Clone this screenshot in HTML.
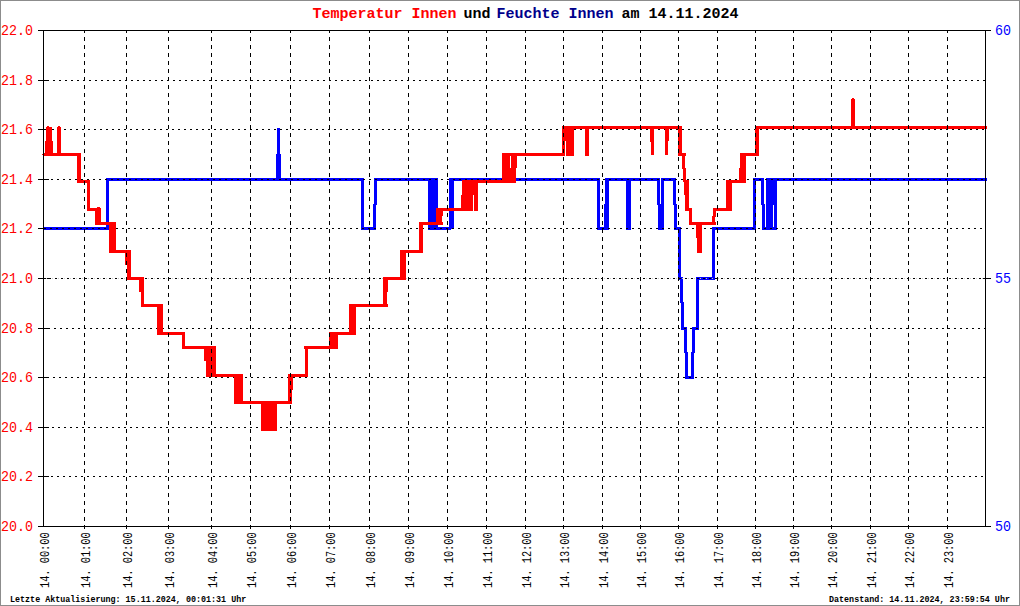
<!DOCTYPE html>
<html><head><meta charset="utf-8"><title>Temperatur Innen und Feuchte Innen am 14.11.2024</title>
<style>
html,body{margin:0;padding:0;background:#fff;}
body{width:1020px;height:606px;overflow:hidden;}
svg{display:block;}
text{font-family:"Liberation Mono",monospace;}
.t{font-weight:bold;font-size:15px;}
.yl{font-size:13.34px;}
.xl{font-size:10.3px;}
.ft{font-size:8.4px;font-weight:bold;}
</style></head><body>
<svg width="1020" height="606" viewBox="0 0 1020 606">
<rect x="0" y="0" width="1020" height="606" fill="#fff"/>

<g fill="#000" shape-rendering="crispEdges">
<rect x="38" y="30" width="11" height="1"/>
<rect x="38" y="80" width="11" height="1"/>
<rect x="38" y="129" width="11" height="1"/>
<rect x="38" y="179" width="11" height="1"/>
<rect x="38" y="228" width="11" height="1"/>
<rect x="38" y="278" width="11" height="1"/>
<rect x="38" y="328" width="11" height="1"/>
<rect x="38" y="377" width="11" height="1"/>
<rect x="38" y="427" width="11" height="1"/>
<rect x="38" y="476" width="11" height="1"/>
<rect x="38" y="526" width="11" height="1"/>
<rect x="982" y="278" width="9" height="1"/>
</g>
<path d="M44 227h65v3h-65zM106 178h3v52h-3zM106 178h258v3h-258zM277 128h3v53h-3zM276 154h5v27h-5zM361 178h3v52h-3zM361 227h15v3h-15zM373 204h3v26h-3zM374 178h3v27h-3zM374 178h64v3h-64zM428 178h10v52h-10zM428 227h23v3h-23zM449 178h5v51h-5zM449 178h151v3h-151zM597 178h3v52h-3zM597 227h12v3h-12zM604 204h5v26h-5zM605 178h4v52h-4zM606 178h25v3h-25zM626 178h5v52h-5zM626 178h34v3h-34zM657 178h3v27h-3zM658 204h6v26h-6zM661 178h3v52h-3zM661 178h15v3h-15zM673 178h3v27h-3zM674 204h3v26h-3zM674 227h7v3h-7zM678 228h3v52h-3zM678 277h5v3h-5zM680 278h3v25h-3zM681 302h3v27h-3zM681 327h6v3h-6zM684 328h3v25h-3zM685 352h3v27h-3zM685 376h9v3h-9zM691 352h3v27h-3zM692 328h3v25h-3zM692 327h7v3h-7zM696 278h3v52h-3zM696 277h19v3h-19zM712 228h3v52h-3zM712 227h44v3h-44zM753 178h3v52h-3zM753 178h11v3h-11zM761 178h3v27h-3zM762 204h3v26h-3zM762 227h15v3h-15zM766 178h7v52h-7zM773 178h1v27h-1zM774 178h3v52h-3zM766 178h221v3h-221z" fill="#0000ff" shape-rendering="crispEdges"/>
<g stroke="#000" stroke-width="1" shape-rendering="crispEdges" fill="none">
<line x1="43" y1="80.5" x2="986" y2="80.5" stroke-dasharray="2 4" stroke-dashoffset="2"/>
<line x1="43" y1="129.5" x2="986" y2="129.5" stroke-dasharray="2 4" stroke-dashoffset="3"/>
<line x1="43" y1="179.5" x2="986" y2="179.5" stroke-dasharray="2 4" stroke-dashoffset="4"/>
<line x1="43" y1="228.5" x2="986" y2="228.5" stroke-dasharray="2 4" stroke-dashoffset="5"/>
<line x1="43" y1="278.5" x2="986" y2="278.5" stroke-dasharray="2 4" stroke-dashoffset="0"/>
<line x1="43" y1="328.5" x2="986" y2="328.5" stroke-dasharray="2 4" stroke-dashoffset="1"/>
<line x1="43" y1="377.5" x2="986" y2="377.5" stroke-dasharray="2 4" stroke-dashoffset="2"/>
<line x1="43" y1="427.5" x2="986" y2="427.5" stroke-dasharray="2 4" stroke-dashoffset="3"/>
<line x1="43" y1="476.5" x2="986" y2="476.5" stroke-dasharray="2 4" stroke-dashoffset="4"/>
<line x1="43" y1="278.5" x2="986" y2="278.5" stroke="#c8c8c8" stroke-dasharray="1 5" stroke-dashoffset="3"/>
</g>
<path d="M42 154h1v1h-1zM44 153h36v3h-36zM45 141h8v15h-8zM46 127h6v15h-6zM47 126h2v1h-2zM57 127h4v29h-4zM58 126h2v1h-2zM77 153h4v30h-4zM77 180h13v3h-13zM87 180h3v31h-3zM87 208h14v3h-14zM95 208h6v17h-6zM97 207h3v1h-3zM95 222h21v3h-21zM109 222h7v31h-7zM109 250h22v3h-22zM125 250h3v15h-3zM127 250h4v30h-4zM127 277h17v3h-17zM139 277h3v15h-3zM141 277h3v30h-3zM141 304h22v3h-22zM157 304h6v31h-6zM157 332h28v3h-28zM182 332h3v17h-3zM182 346h34v3h-34zM204 346h3v15h-3zM206 346h10v31h-10zM206 374h37v3h-37zM234 374h9v30h-9zM234 401h58v3h-58zM261 401h16v30h-16zM288 374h4v30h-4zM288 374h5v16h-5zM288 374h20v3h-20zM305 346h3v31h-3zM304 346h34v3h-34zM329 332h9v17h-9zM329 332h27v3h-27zM349 304h7v31h-7zM349 304h39v3h-39zM383 277h4v30h-4zM383 277h5v15h-5zM383 277h23v3h-23zM400 250h6v30h-6zM400 250h23v3h-23zM419 222h4v31h-4zM419 222h24v3h-24zM436 208h6v17h-6zM441 208h2v8h-2zM436 208h26v3h-26zM461 195h2v16h-2zM462 180h11v31h-11zM473 180h1v15h-1zM474 180h4v31h-4zM462 180h54v3h-54zM502 153h8v30h-8zM510 168h1v15h-1zM511 153h5v30h-5zM516 153h1v15h-1zM502 153h63v3h-63zM562 126h3v30h-3zM565 126h1v15h-1zM566 126h8v30h-8zM562 126h120v3h-120zM585 126h4v30h-4zM650 126h4v16h-4zM651 126h3v29h-3zM665 126h4v15h-4zM665 126h3v29h-3zM678 126h4v30h-4zM678 153h8v3h-8zM682 153h3v16h-3zM683 168h3v14h-3zM684 180h5v15h-5zM685 194h4v17h-4zM685 208h7v3h-7zM689 208h3v17h-3zM689 222h27v3h-27zM696 222h6v16h-6zM697 222h5v31h-5zM712 216h3v9h-3zM713 208h3v9h-3zM713 208h19v3h-19zM726 180h6v31h-6zM726 180h20v3h-20zM740 154h6v29h-6zM739 168h2v15h-2zM740 153h19v3h-19zM755 126h4v30h-4zM755 126h232v3h-232zM851 99h4v30h-4zM852 98h2v1h-2z" fill="#ff0000" shape-rendering="crispEdges"/>
<g stroke="#000" stroke-width="1" shape-rendering="crispEdges" fill="none">
<line x1="84.5" y1="30" x2="84.5" y2="529" stroke-dasharray="4 4" stroke-dashoffset="1"/>
<line x1="126.5" y1="30" x2="126.5" y2="529" stroke-dasharray="4 4" stroke-dashoffset="1"/>
<line x1="168.5" y1="30" x2="168.5" y2="529" stroke-dasharray="4 4" stroke-dashoffset="1"/>
<line x1="211.5" y1="30" x2="211.5" y2="529" stroke-dasharray="4 4" stroke-dashoffset="1"/>
<line x1="250.5" y1="30" x2="250.5" y2="529" stroke-dasharray="4 4" stroke-dashoffset="1"/>
<line x1="290.5" y1="30" x2="290.5" y2="529" stroke-dasharray="4 4" stroke-dashoffset="1"/>
<line x1="329.5" y1="30" x2="329.5" y2="529" stroke-dasharray="4 4" stroke-dashoffset="1"/>
<line x1="369.5" y1="30" x2="369.5" y2="529" stroke-dasharray="4 4" stroke-dashoffset="1"/>
<line x1="408.5" y1="30" x2="408.5" y2="529" stroke-dasharray="4 4" stroke-dashoffset="1"/>
<line x1="447.5" y1="30" x2="447.5" y2="529" stroke-dasharray="4 4" stroke-dashoffset="1"/>
<line x1="486.5" y1="30" x2="486.5" y2="529" stroke-dasharray="4 4" stroke-dashoffset="1"/>
<line x1="525.5" y1="30" x2="525.5" y2="529" stroke-dasharray="4 4" stroke-dashoffset="1"/>
<line x1="563.5" y1="30" x2="563.5" y2="529" stroke-dasharray="4 4" stroke-dashoffset="1"/>
<line x1="602.5" y1="30" x2="602.5" y2="529" stroke-dasharray="4 4" stroke-dashoffset="1"/>
<line x1="640.5" y1="30" x2="640.5" y2="529" stroke-dasharray="4 4" stroke-dashoffset="1"/>
<line x1="678.5" y1="30" x2="678.5" y2="529" stroke-dasharray="4 4" stroke-dashoffset="1"/>
<line x1="717.5" y1="30" x2="717.5" y2="529" stroke-dasharray="4 4" stroke-dashoffset="1"/>
<line x1="755.5" y1="30" x2="755.5" y2="529" stroke-dasharray="4 4" stroke-dashoffset="1"/>
<line x1="793.5" y1="30" x2="793.5" y2="529" stroke-dasharray="4 4" stroke-dashoffset="1"/>
<line x1="831.5" y1="30" x2="831.5" y2="529" stroke-dasharray="4 4" stroke-dashoffset="1"/>
<line x1="870.5" y1="30" x2="870.5" y2="529" stroke-dasharray="4 4" stroke-dashoffset="1"/>
<line x1="908.5" y1="30" x2="908.5" y2="529" stroke-dasharray="4 4" stroke-dashoffset="1"/>
<line x1="947.5" y1="30" x2="947.5" y2="529" stroke-dasharray="4 4" stroke-dashoffset="1"/>
</g>
<g fill="#000" shape-rendering="crispEdges">
<rect x="38" y="30" width="953" height="1"/>
<rect x="38" y="526" width="953" height="1"/>
<rect x="43" y="30" width="1" height="497"/>
<rect x="985" y="30" width="1" height="497"/>
</g>
<rect x="0.5" y="0.5" width="1019" height="605" fill="none" stroke="#8c8c8c" stroke-width="1"/>
<g class="t">
<text x="312.5" y="18" fill="#ff0000">Temperatur Innen</text>
<text x="463.5" y="18" fill="#000">und</text>
<text x="496.5" y="18" fill="#00008b">Feuchte Innen</text>
<text x="621.5" y="18" fill="#000">am 14.11.2024</text>
</g>
<g class="yl" fill="#ff0000">
<text transform="translate(1,35) scale(1,1.1)">22.0</text>
<text transform="translate(1,85) scale(1,1.1)">21.8</text>
<text transform="translate(1,134) scale(1,1.1)">21.6</text>
<text transform="translate(1,184) scale(1,1.1)">21.4</text>
<text transform="translate(1,233) scale(1,1.1)">21.2</text>
<text transform="translate(1,283) scale(1,1.1)">21.0</text>
<text transform="translate(1,333) scale(1,1.1)">20.8</text>
<text transform="translate(1,382) scale(1,1.1)">20.6</text>
<text transform="translate(1,432) scale(1,1.1)">20.4</text>
<text transform="translate(1,481) scale(1,1.1)">20.2</text>
<text transform="translate(1,531) scale(1,1.1)">20.0</text>
</g>
<g class="yl" fill="#0000ff">
<text transform="translate(995,35) scale(1,1.1)">60</text>
<text transform="translate(995,283) scale(1,1.1)">55</text>
<text transform="translate(995,531) scale(1,1.1)">50</text>
</g>
<g class="xl" fill="#000">
<text transform="translate(49,588) rotate(-90) scale(1,1.3)" x="0" y="0">14. 00:00</text>
<text transform="translate(90,588) rotate(-90) scale(1,1.3)" x="0" y="0">14. 01:00</text>
<text transform="translate(132,588) rotate(-90) scale(1,1.3)" x="0" y="0">14. 02:00</text>
<text transform="translate(174,588) rotate(-90) scale(1,1.3)" x="0" y="0">14. 03:00</text>
<text transform="translate(217,588) rotate(-90) scale(1,1.3)" x="0" y="0">14. 04:00</text>
<text transform="translate(256,588) rotate(-90) scale(1,1.3)" x="0" y="0">14. 05:00</text>
<text transform="translate(296,588) rotate(-90) scale(1,1.3)" x="0" y="0">14. 06:00</text>
<text transform="translate(335,588) rotate(-90) scale(1,1.3)" x="0" y="0">14. 07:00</text>
<text transform="translate(375,588) rotate(-90) scale(1,1.3)" x="0" y="0">14. 08:00</text>
<text transform="translate(414,588) rotate(-90) scale(1,1.3)" x="0" y="0">14. 09:00</text>
<text transform="translate(453,588) rotate(-90) scale(1,1.3)" x="0" y="0">14. 10:00</text>
<text transform="translate(492,588) rotate(-90) scale(1,1.3)" x="0" y="0">14. 11:00</text>
<text transform="translate(531,588) rotate(-90) scale(1,1.3)" x="0" y="0">14. 12:00</text>
<text transform="translate(569,588) rotate(-90) scale(1,1.3)" x="0" y="0">14. 13:00</text>
<text transform="translate(608,588) rotate(-90) scale(1,1.3)" x="0" y="0">14. 14:00</text>
<text transform="translate(646,588) rotate(-90) scale(1,1.3)" x="0" y="0">14. 15:00</text>
<text transform="translate(684,588) rotate(-90) scale(1,1.3)" x="0" y="0">14. 16:00</text>
<text transform="translate(723,588) rotate(-90) scale(1,1.3)" x="0" y="0">14. 17:00</text>
<text transform="translate(761,588) rotate(-90) scale(1,1.3)" x="0" y="0">14. 18:00</text>
<text transform="translate(799,588) rotate(-90) scale(1,1.3)" x="0" y="0">14. 19:00</text>
<text transform="translate(837,588) rotate(-90) scale(1,1.3)" x="0" y="0">14. 20:00</text>
<text transform="translate(876,588) rotate(-90) scale(1,1.3)" x="0" y="0">14. 21:00</text>
<text transform="translate(914,588) rotate(-90) scale(1,1.3)" x="0" y="0">14. 22:00</text>
<text transform="translate(953,588) rotate(-90) scale(1,1.3)" x="0" y="0">14. 23:00</text>
</g>
<text class="ft" x="10" y="602" fill="#000">Letzte Aktualisierung: 15.11.2024, 00:01:31 Uhr</text>
<text class="ft" x="829" y="602" fill="#000">Datenstand: 14.11.2024, 23:59:54 Uhr</text>
</svg>
</body></html>
